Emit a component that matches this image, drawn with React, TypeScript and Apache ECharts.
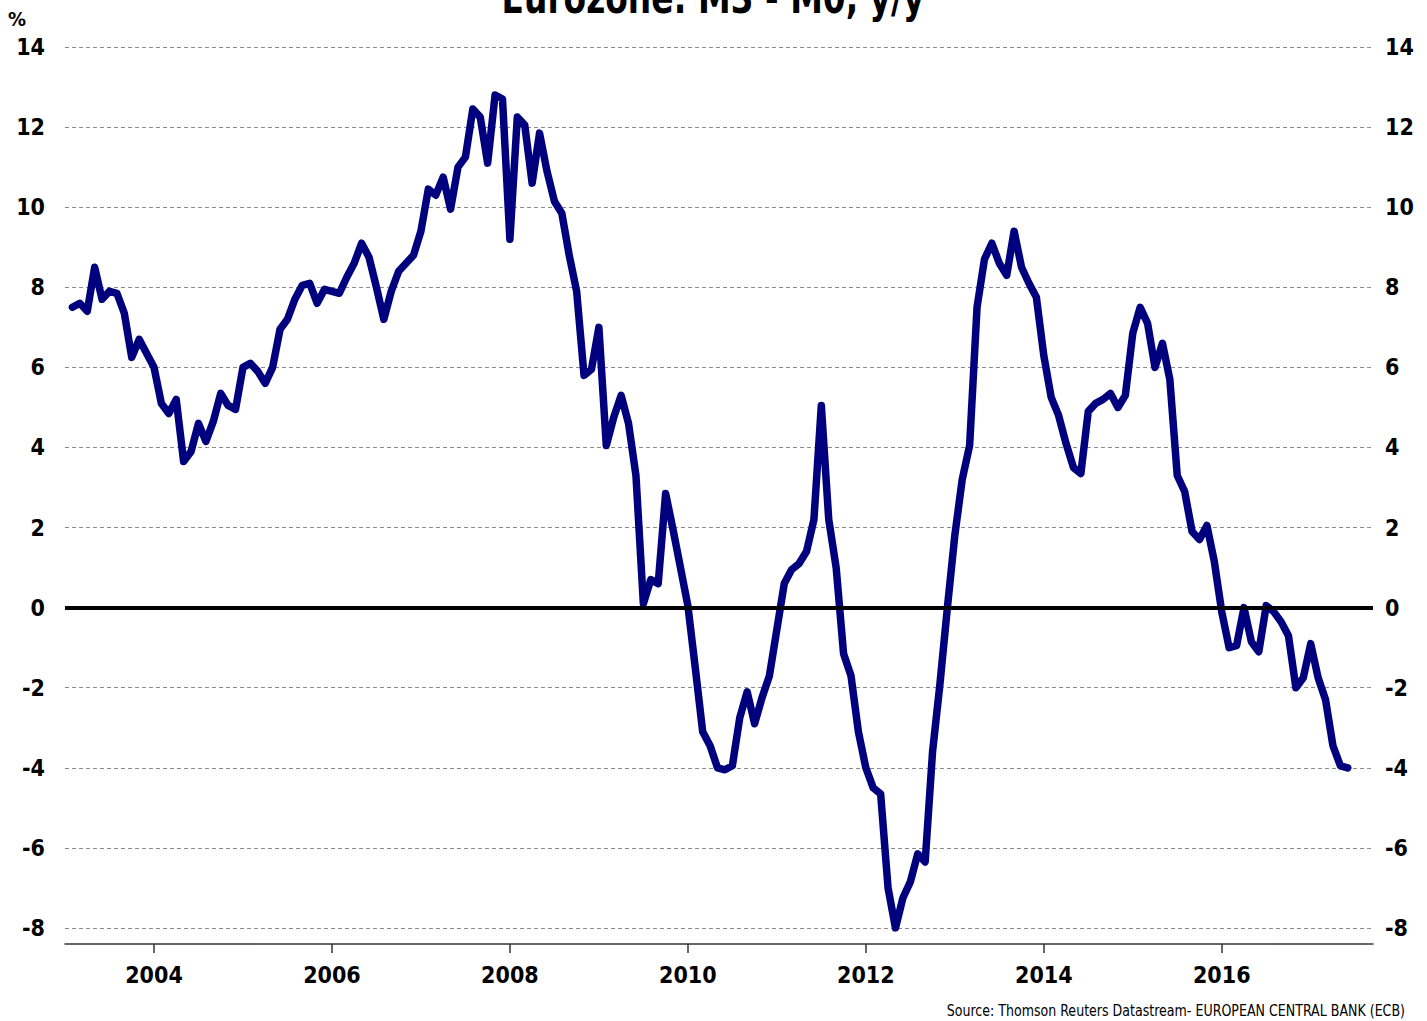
import React, { useEffect, useRef } from "react";
import * as echarts from "echarts";

const TITLE = "Eurozone: M3 - M0, y/y";
const SOURCE = "Source: Thomson Reuters Datastream- EUROPEAN CENTRAL BANK (ECB)";
const UNIT = "%";

// Monthly values, Jan 2003 .. May 2017 (% y/y)
const START_YEAR = 2003;
const values: number[] = [
  7.5, 7.6, 7.4, 8.5, 7.7, 7.9, 7.85, 7.35, 6.25, 6.7, 6.35, 6.0,
  5.1, 4.85, 5.2, 3.65, 3.9, 4.6, 4.15, 4.65, 5.35, 5.05, 4.95, 6.0,
  6.1, 5.9, 5.6, 6.0, 6.95, 7.2, 7.7, 8.05, 8.1, 7.6, 7.95, 7.9,
  7.85, 8.25, 8.6, 9.1, 8.75, 8.0, 7.2, 7.9, 8.4, 8.6, 8.8, 9.4,
  10.45, 10.3, 10.75, 9.95, 11.0, 11.25, 12.45, 12.25, 11.1, 12.8, 12.7, 9.2,
  12.25, 12.05, 10.6, 11.85, 10.9, 10.15, 9.85, 8.8, 7.9, 5.8, 5.95, 7.0,
  4.05, 4.75, 5.3, 4.6, 3.3, 0.1, 0.7, 0.6, 2.85, 1.95, 1.0, 0.05,
  -1.5, -3.1, -3.45, -4.0, -4.05, -3.95, -2.75, -2.1, -2.9, -2.25, -1.7, -0.55,
  0.6, 0.95, 1.1, 1.4, 2.2, 5.05, 2.2, 1.0, -1.15, -1.7, -3.1, -4.0,
  -4.5, -4.65, -7.0, -8.0, -7.25, -6.85, -6.15, -6.35, -3.6, -1.9, 0.0, 1.8,
  3.2, 4.05, 7.5, 8.7, 9.1, 8.6, 8.3, 9.4, 8.5, 8.1, 7.75, 6.3,
  5.25, 4.8, 4.1, 3.5, 3.35, 4.9, 5.1, 5.2, 5.35, 5.0, 5.3, 6.85,
  7.5, 7.1, 6.0, 6.6, 5.7, 3.3, 2.9, 1.9, 1.7, 2.05, 1.15, -0.1,
  -1.0, -0.95, 0.0, -0.85, -1.1, 0.05, -0.1, -0.35, -0.7, -2.0, -1.75, -0.9,
  -1.75, -2.3, -3.45, -3.95, -4.0,
];

const xTickYears = [2004, 2006, 2008, 2010, 2012, 2014, 2016];
const yTicks = [-8, -6, -4, -2, 0, 2, 4, 6, 8, 10, 12, 14];

const FONT = "'DejaVu Sans Condensed', 'Liberation Sans Narrow', 'Liberation Sans', Arial, sans-serif";

export default function App() {
  const ref = useRef<HTMLDivElement>(null);

  useEffect(() => {
    if (!ref.current) return;
    const chart = echarts.init(ref.current, undefined, { renderer: "svg" });

    // month-end positioning on a decimal-year axis
    const seriesData = values.map((v, i) => [START_YEAR + (i + 1) / 12, v]);

    const yLabel = {
      color: "#000",
      fontFamily: FONT,
      fontWeight: "bold" as const,
      fontSize: 23,
    };

    chart.setOption({
      animation: false,
      backgroundColor: "#fff",
      grid: { left: 65, right: 54, top: 47, bottom: 93, containLabel: false },
      xAxis: {
        type: "value",
        min: 2003,
        max: 2017.7,
        offset: 16,
        axisLine: { show: true, onZero: false, lineStyle: { color: "#333", width: 1.5 } },
        axisTick: {
          show: true,
          length: 9,
          customValues: xTickYears,
          lineStyle: { color: "#333", width: 1.5 },
        },
        axisLabel: {
          customValues: xTickYears,
          formatter: (v: number) => String(v),
          color: "#000",
          fontFamily: FONT,
          fontWeight: "bold",
          fontSize: 23,
          margin: 19,
        },
        splitLine: { show: false },
      },
      yAxis: [
        {
          type: "value",
          min: yTicks[0],
          max: yTicks[yTicks.length - 1],
          interval: 2,
          position: "left",
          axisLine: { show: false },
          axisTick: { show: false },
          axisLabel: { ...yLabel, margin: 20 },
          splitLine: {
            show: true,
            lineStyle: { color: "#8c8c8c", width: 1, type: [4, 3] },
          },
        },
        {
          type: "value",
          min: yTicks[0],
          max: yTicks[yTicks.length - 1],
          interval: 2,
          position: "right",
          axisLine: { show: false },
          axisTick: { show: false },
          axisLabel: { ...yLabel, margin: 12 },
          splitLine: { show: false },
        },
      ],
      series: [
        {
          type: "line",
          name: "zero",
          data: [],
          z: 1,
          silent: true,
          markLine: {
            silent: true,
            symbol: ["none", "none"],
            label: { show: false },
            lineStyle: { color: "#000", width: 4, type: "solid" },
            data: [{ yAxis: 0 }],
          },
        },
        {
          type: "line",
          name: "M3 - M0",
          data: seriesData,
          z: 3,
          showSymbol: false,
          symbol: "none",
          lineStyle: { color: "#00007f", width: 7.5, cap: "round", join: "round" },
        },
      ],
      graphic: [
        {
          type: "text",
          x: 713,
          y: -2,
          scaleX: 0.83,
          style: {
            text: TITLE,
            fill: "#000",
            font: `bold 44px ${FONT}`,
            textAlign: "center",
            textVerticalAlign: "middle",
          },
        },
        {
          type: "text",
          x: 17,
          y: 19,
          style: {
            text: UNIT,
            fill: "#000",
            font: `bold 20px ${FONT}`,
            textAlign: "center",
            textVerticalAlign: "middle",
          },
        },
        {
          type: "text",
          x: 1405,
          y: 1011,
          scaleX: 0.935,
          style: {
            text: SOURCE,
            fill: "#000",
            font: `15px ${FONT}`,
            textAlign: "right",
            textVerticalAlign: "middle",
          },
        },
      ],
    });

    return () => chart.dispose();
  }, []);

  return (
    <div
      ref={ref}
      style={{ position: "absolute", left: 0, top: 0, width: 1427, height: 1021 }}
    />
  );
}
